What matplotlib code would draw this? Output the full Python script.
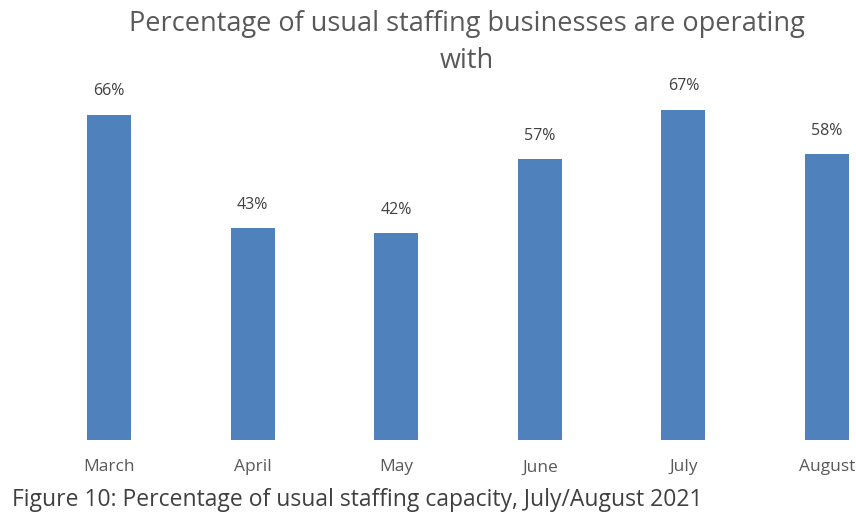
import matplotlib
matplotlib.use("Agg")
import matplotlib.pyplot as plt

months = ["March", "April", "May", "June", "July", "August"]
staffing_pct = [66, 43, 42, 57, 67, 58]
labels = ["66%", "43%", "42%", "57%", "67%", "58%"]

title = "Percentage of usual staffing businesses are operating\nwith"
caption = "Figure 10: Percentage of usual staffing capacity, July/August 2021"

W, H = 856, 517
plt.rcParams["font.family"] = ["Open Sans", "DejaVu Sans"]

fig = plt.figure(figsize=(W / 100, H / 100), dpi=100)
fig.patch.set_facecolor("white")

# axes spans the full width, baseline sits at y=440px
ax = fig.add_axes([0, (H - 440) / H, 1, 360 / H])
x = list(range(len(months)))
ax.bar(x, staffing_pct, width=0.306, color="#4f81bd")
ax.set_xlim(-0.759, 5.202)
ax.set_ylim(0, 73)

for xi, v, lab in zip(x, staffing_pct, labels):
    ax.annotate(lab, (xi, v), xytext=(0, 11), textcoords="offset points",
                ha="center", va="bottom", fontsize=11.5, color="#404040")

ax.set_xticks(x)
ax.set_xticklabels(months, fontsize=12.5, color="#595959")
ax.tick_params(axis="x", length=0, pad=14)
ax.set_yticks([])
for s in ax.spines.values():
    s.set_visible(False)

fig.text(467 / W, 1 - 10 / H, title, ha="center", va="top", fontsize=19.5,
         color="#595959", linespacing=1.45)
fig.text(12 / W, 1 - 500 / H, caption, ha="left", va="center", fontsize=16.5,
         color="#404040")

fig.savefig("out.png", dpi=100)
